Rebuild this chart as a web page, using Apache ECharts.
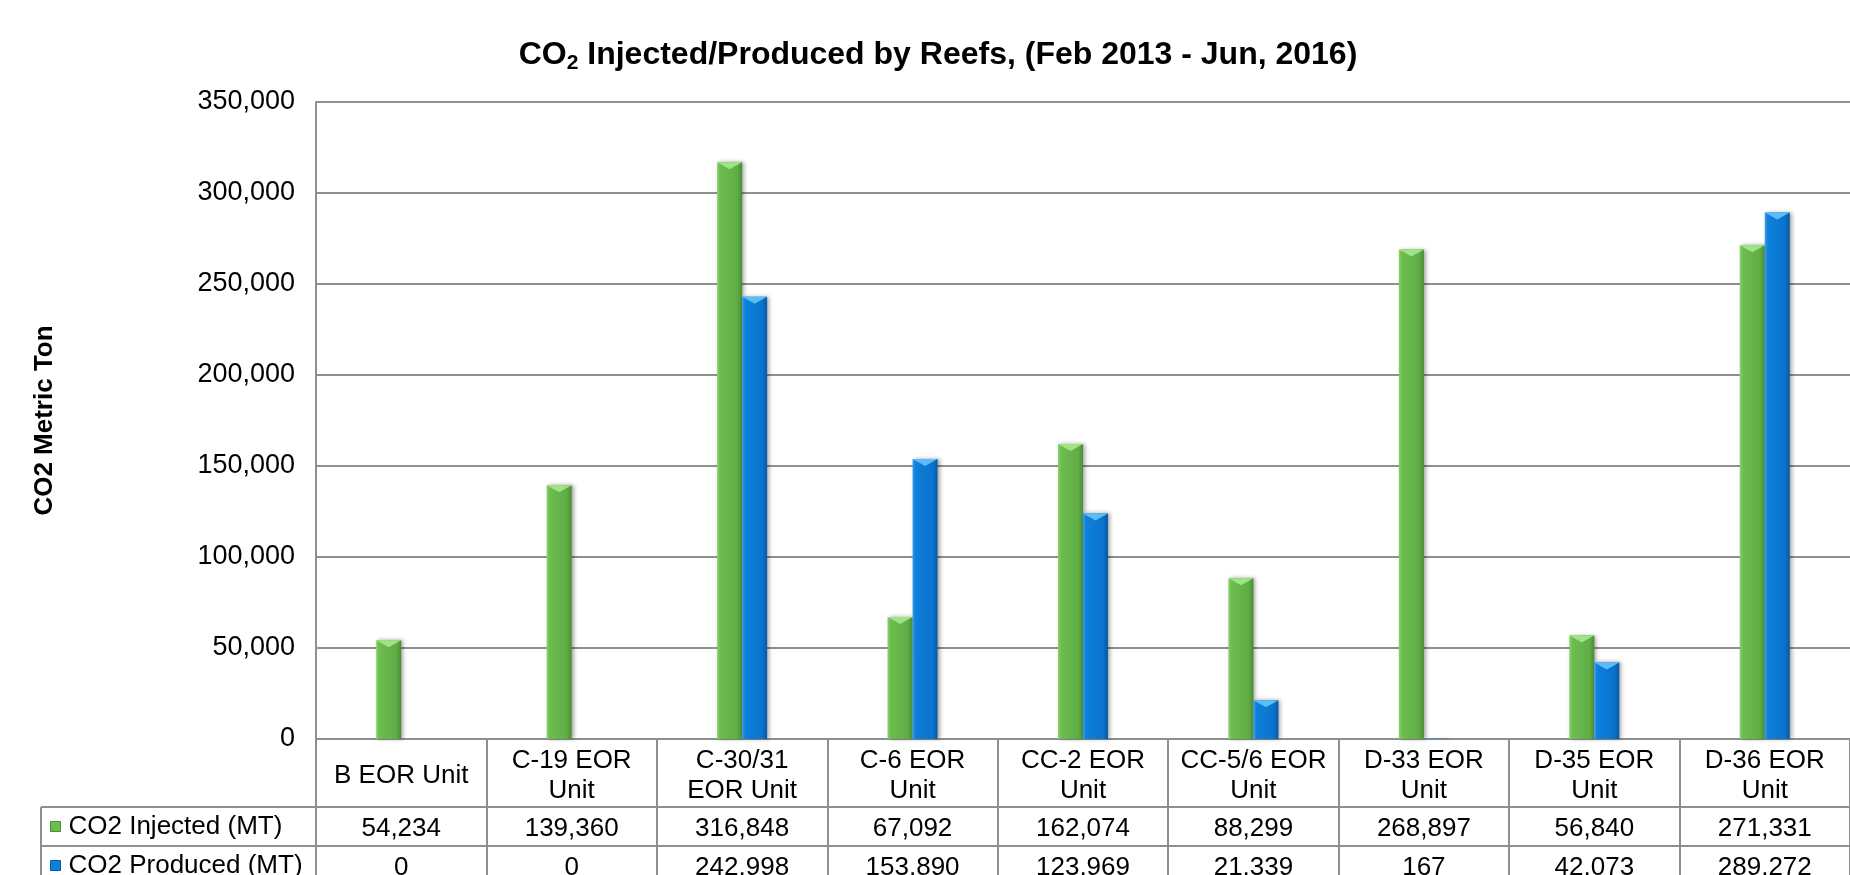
<!DOCTYPE html>
<html>
<head>
<meta charset="utf-8">
<script src="https://cdn.jsdelivr.net/npm/echarts@6/dist/echarts.min.js"></script>
<style>
  html, body { margin: 0; padding: 0; background: #fff; }
  #chart { width: 1850px; height: 875px; }
</style>
</head>
<body>
<div id="chart"></div>
<script>
// Reef units (table header text, line breaks as shown in the header cells)
const categories = [
  'B EOR Unit', 'C-19 EOR\nUnit', 'C-30/31\nEOR Unit', 'C-6 EOR\nUnit',
  'CC-2 EOR\nUnit', 'CC-5/6 EOR\nUnit', 'D-33 EOR\nUnit', 'D-35 EOR\nUnit', 'D-36 EOR\nUnit'
];
// Cumulative CO2, metric tons
const injected = [54234, 139360, 316848, 67092, 162074, 88299, 268897, 56840, 271331];
const produced = [0, 0, 242998, 153890, 123969, 21339, 167, 42073, 289272];
const seriesNames = ['CO2 Injected (MT)', 'CO2 Produced (MT)'];
const yMin = 0, yMax = 350000, yStep = 50000;

// Layout
const W = 1850, H = 875;
const GRID_LEFT = 316, GRID_TOP = 102, GRID_BOTTOM = 136;
const AXIS_Y = H - GRID_BOTTOM;          // category axis / table top
const HEADER_H = 68, ROW_H = 39;
const TABLE_LEFT = 41;
const GRAY = '#8f8f8f';
const FONT = '"Liberation Sans", Arial, sans-serif';
const FS = 26;

const fmt = v => v.toLocaleString('en-US');

const greenFill = {
  type: 'linear', x: 0, y: 0, x2: 1, y2: 0,
  colorStops: [
    { offset: 0, color: '#8ad36d' }, { offset: 0.12, color: '#6cbd50' },
    { offset: 0.8, color: '#60ad46' }, { offset: 1, color: '#4a8d37' }
  ]
};
const blueFill = {
  type: 'linear', x: 0, y: 0, x2: 1, y2: 0,
  colorStops: [
    { offset: 0, color: '#3a9cec' }, { offset: 0.12, color: '#0d80dc' },
    { offset: 0.8, color: '#0a73cb' }, { offset: 1, color: '#0759a5' }
  ]
};
const barShadow = { shadowBlur: 4, shadowColor: 'rgba(0,0,0,0.35)', shadowOffsetX: 2 };

// Bevelled top of each bar (skipped where the bar is too short to show it)
const capData = arr => arr.map(v => (v >= 5000 ? v : '-'));
const capSymbol = 'path://M0,0L20,0L10,6Z';

const chart = echarts.init(document.getElementById('chart'), null, { renderer: 'canvas' });

chart.setOption({
  animation: false,
  textStyle: { fontFamily: FONT, color: '#000' },
  title: {
    text: '{b|CO}{s|2}{b| Injected/Produced by Reefs, (Feb 2013 - Jun, 2016)}',
    left: 938, top: 37, padding: 0, textAlign: 'center',
    textStyle: {
      rich: {
        b: { fontSize: 32, fontWeight: 'bold', lineHeight: 37, color: '#000', fontFamily: FONT },
        s: { fontSize: 21, fontWeight: 'bold', lineHeight: 17, verticalAlign: 'bottom', color: '#000', fontFamily: FONT }
      }
    }
  },
  legend: {
    orient: 'vertical', left: 50, top: AXIS_Y + HEADER_H, height: 2 * ROW_H + 20,
    padding: 0, itemGap: 0,
    itemWidth: 10, itemHeight: 10, icon: 'rect', selectedMode: false,
    data: [
      { name: seriesNames[0], itemStyle: { color: '#6cbd50', borderColor: '#4a8d37', borderWidth: 1 } },
      { name: seriesNames[1], itemStyle: { color: '#0d80dc', borderColor: '#0759a5', borderWidth: 1 } }
    ],
    textStyle: { fontSize: FS, color: '#000', lineHeight: ROW_H, padding: [0, 0, 0, 3], fontFamily: FONT }
  },
  grid: {
    left: GRID_LEFT, right: 0, top: GRID_TOP, bottom: GRID_BOTTOM,
    containLabel: false, outerBoundsMode: 'none'
  },
  xAxis: {
    type: 'category', data: categories, boundaryGap: true,
    axisLine: { show: true, lineStyle: { color: GRAY, width: 2 } },
    axisTick: { show: true, inside: false, length: HEADER_H + 2 * ROW_H + 10, lineStyle: { color: GRAY, width: 2 } },
    axisLabel: {
      interval: 0, margin: 7, color: '#000',
      formatter: (value, idx) => {
        const lines = value.split('\n');
        const head = lines.length === 1 ? `{h1|${lines[0]}}` : lines.map(l => `{h|${l}}`).join('\n');
        return `${head}\n{v1|${fmt(injected[idx])}}\n{v2|${fmt(produced[idx])}}`;
      },
      rich: {
        h: { fontSize: FS, lineHeight: 30, color: '#000', fontFamily: FONT },
        h1: { fontSize: FS, lineHeight: 60, color: '#000', fontFamily: FONT },
        v1: { fontSize: FS, lineHeight: 45, color: '#000', fontFamily: FONT },
        v2: { fontSize: FS, lineHeight: 33, color: '#000', fontFamily: FONT }
      }
    },
    splitLine: { show: false }
  },
  yAxis: {
    type: 'value', min: yMin, max: yMax, interval: yStep,
    name: 'CO2 Metric Ton', nameLocation: 'middle', nameGap: 258,
    nameTextStyle: { fontSize: 26, fontWeight: 'bold', color: '#000', fontFamily: FONT },
    axisLine: { show: true, lineStyle: { color: GRAY, width: 2 } },
    axisTick: { show: false },
    splitLine: { show: true, lineStyle: { color: GRAY, width: 2 } },
    axisLabel: { fontSize: 27, color: '#000', margin: 21, formatter: v => fmt(v) }
  },
  series: [
    {
      type: 'bar', name: seriesNames[0], data: injected, barWidth: 25, barGap: '0%',
      itemStyle: Object.assign({ color: greenFill }, barShadow), z: 2
    },
    {
      type: 'bar', name: seriesNames[1], data: produced, barWidth: 25, barGap: '0%',
      itemStyle: Object.assign({ color: blueFill }, barShadow), z: 2
    },
    {
      type: 'pictorialBar', name: 'injectedCap', data: capData(injected), barWidth: 25, barGap: '0%',
      symbol: capSymbol, symbolSize: ['100%', 7], symbolPosition: 'end',
      itemStyle: { color: '#a0e286' }, z: 4, silent: true
    },
    {
      type: 'pictorialBar', name: 'producedCap', data: capData(produced), barWidth: 25, barGap: '0%',
      symbol: capSymbol, symbolSize: ['100%', 7], symbolPosition: 'end',
      itemStyle: { color: '#5cbcf6' }, z: 4, silent: true
    }
  ],
  graphic: [
    { type: 'line', silent: true, shape: { x1: TABLE_LEFT, y1: AXIS_Y + HEADER_H, x2: W, y2: AXIS_Y + HEADER_H }, style: { stroke: GRAY, lineWidth: 2 } },
    { type: 'line', silent: true, shape: { x1: TABLE_LEFT, y1: AXIS_Y + HEADER_H + ROW_H, x2: W, y2: AXIS_Y + HEADER_H + ROW_H }, style: { stroke: GRAY, lineWidth: 2 } },
    { type: 'line', silent: true, shape: { x1: TABLE_LEFT, y1: AXIS_Y + HEADER_H, x2: TABLE_LEFT, y2: H }, style: { stroke: GRAY, lineWidth: 2 } }
  ]
});
</script>
</body>
</html>
